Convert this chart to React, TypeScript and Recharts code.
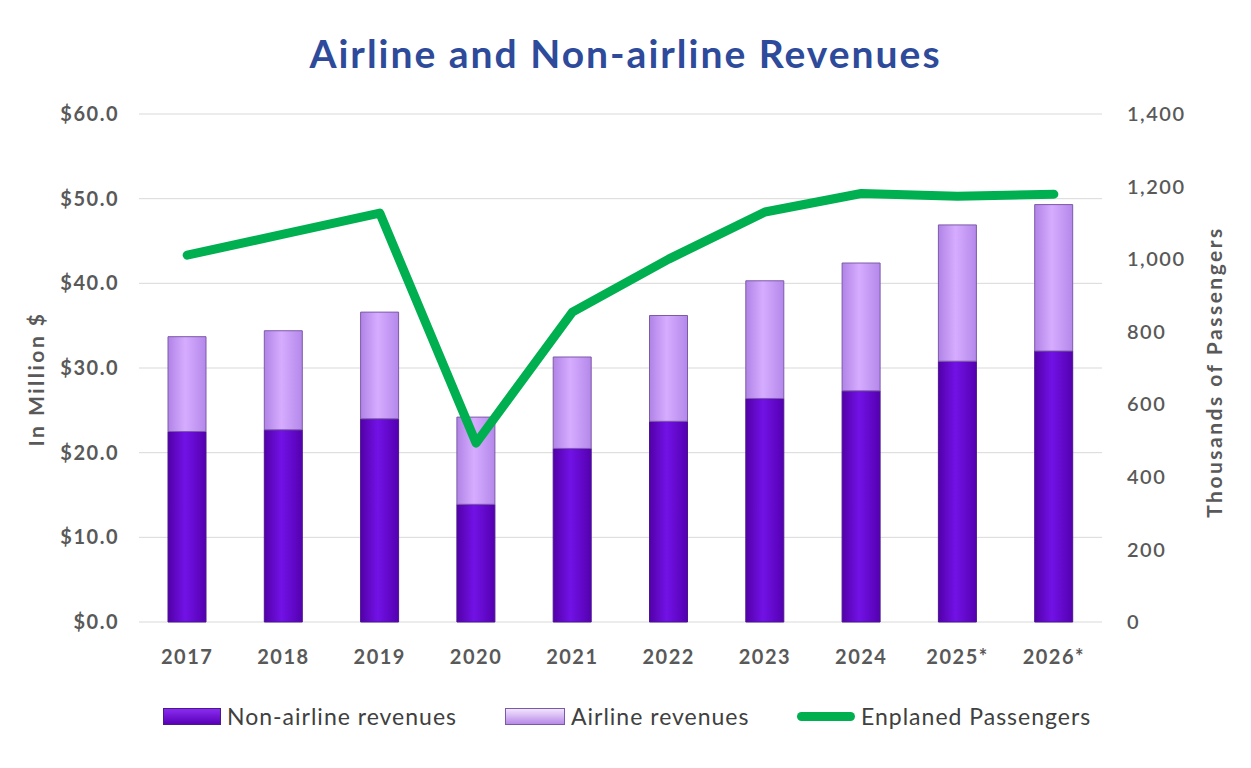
import {
  ComposedChart,
  Bar,
  Line,
  XAxis,
  YAxis,
  CartesianGrid,
} from "recharts";

const years = ["2017", "2018", "2019", "2020", "2021", "2022", "2023", "2024", "2025*", "2026*"];
const nonAirline = [22.5, 22.7, 24.0, 13.9, 20.5, 23.7, 26.4, 27.3, 30.8, 32.0];
const airline = [11.2, 11.7, 12.6, 10.3, 10.8, 12.5, 13.9, 15.1, 16.1, 17.3];
const passengers = [1011, 1069, 1127, 493, 854, 1000, 1130, 1181, 1173, 1179];

const leftTicks = [0, 10, 20, 30, 40, 50, 60];
const rightTicks = [0, 200, 400, 600, 800, 1000, 1200, 1400];

const data = years.map((y, i) => ({
  year: y,
  nonAirline: nonAirline[i],
  airline: airline[i],
  passengers: passengers[i],
}));

const FONT = "Lato, 'Open Sans', sans-serif";
const TICK_COLOR = "#595959";

const tickStyle = {
  fontSize: 20,
  fontWeight: 700,
  fill: TICK_COLOR,
  fontFamily: FONT,
  letterSpacing: 1.5,
};

const legendText = {
  fontFamily: FONT,
  fontSize: 23,
  letterSpacing: 1,
  color: "#404040",
  whiteSpace: "nowrap",
} as const;

function LegendRow() {
  // x positions are relative to the chart box
  const item = (left: number) =>
    ({ position: "absolute", left, top: 694, display: "flex", alignItems: "center", gap: 6 }) as const;
  return (
    <>
      <div style={item(155)}>
        <div
          style={{
            width: 56,
            height: 15,
            background: "linear-gradient(to bottom, #8a2cf0, #5a00b8)",
            border: "1px solid #4a1a8a",
          }}
        />
        <span style={legendText}>Non-airline revenues</span>
      </div>
      <div style={item(497)}>
        <div
          style={{
            width: 58,
            height: 15,
            background: "linear-gradient(to bottom, #f2e4ff, #b88ae8)",
            border: "1px solid #7a5aa8",
          }}
        />
        <span style={legendText}>Airline revenues</span>
      </div>
      <div style={item(789)}>
        <div style={{ width: 58, height: 9, borderRadius: 5, background: "#00B050" }} />
        <span style={legendText}>Enplaned Passengers</span>
      </div>
    </>
  );
}

const axisTitle = {
  position: "absolute",
  transform: "translate(-50%, -50%) rotate(-90deg)",
  whiteSpace: "nowrap",
  fontFamily: FONT,
  fontWeight: 700,
  fontSize: 21,
  letterSpacing: 2.5,
  color: TICK_COLOR,
} as const;

export default function App() {
  return (
    <div style={{ position: "relative", width: 1235, height: 752, background: "#fff" }}>
      <div
        style={{
          position: "absolute",
          left: 0,
          width: 1235,
          top: 22,
          textAlign: "center",
          fontFamily: FONT,
          fontWeight: 700,
          fontSize: 39,
          letterSpacing: 2,
          color: "#2E4A9A",
        }}
      >
        Airline and Non-airline Revenues
      </div>

      <div style={{ ...axisTitle, left: 27, top: 371 }}>In Million $</div>
      <div style={{ ...axisTitle, left: 1205, top: 364 }}>Thousands of Passengers</div>

      <ComposedChart
        width={1235}
        height={752}
        data={data}
        margin={{ top: 106, right: 0, bottom: 108, left: 0 }}
      >
        <defs>
          <linearGradient id="gradNon" x1="0" y1="0" x2="1" y2="0">
            <stop offset="0%" stopColor="#5200a8" />
            <stop offset="45%" stopColor="#7212e6" />
            <stop offset="100%" stopColor="#5400b0" />
          </linearGradient>
          <linearGradient id="gradAir" x1="0" y1="0" x2="1" y2="0">
            <stop offset="0%" stopColor="#b083e6" />
            <stop offset="45%" stopColor="#d6acff" />
            <stop offset="100%" stopColor="#b488ea" />
          </linearGradient>
        </defs>
        <CartesianGrid horizontal vertical={false} stroke="#d9d9d9" yAxisId="left" />
        <XAxis
          dataKey="year"
          height={30}
          tick={tickStyle}
          tickLine={false}
          axisLine={false}
          tickSize={6}
          tickMargin={22}
          interval={0}
        />
        <YAxis
          yAxisId="left"
          orientation="left"
          width={131}
          domain={[0, 60]}
          ticks={leftTicks}
          tickFormatter={(v: number) => `$${v.toFixed(1)}`}
          tick={tickStyle}
          tickLine={false}
          axisLine={false}
          tickSize={6}
          tickMargin={14}
        />
        <YAxis
          yAxisId="right"
          orientation="right"
          width={141}
          domain={[0, 1400]}
          ticks={rightTicks}
          tickFormatter={(v: number) => v.toLocaleString("en-US")}
          tick={{ ...tickStyle, fontWeight: 600 }}
          tickLine={false}
          axisLine={false}
          tickSize={6}
          tickMargin={19}
        />
        <Bar
          yAxisId="left"
          dataKey="nonAirline"
          stackId="rev"
          barSize={38}
          fill="url(#gradNon)"
          stroke="#4a1490"
          strokeWidth={1}
          isAnimationActive={false}
        />
        <Bar
          yAxisId="left"
          dataKey="airline"
          stackId="rev"
          barSize={38}
          fill="url(#gradAir)"
          stroke="#7d5aa8"
          strokeWidth={1}
          isAnimationActive={false}
        />
        <Line
          yAxisId="right"
          dataKey="passengers"
          type="linear"
          stroke="#00B050"
          strokeWidth={9}
          strokeLinecap="round"
          strokeLinejoin="round"
          dot={false}
          activeDot={false}
          isAnimationActive={false}
        />
      </ComposedChart>

      <LegendRow />
    </div>
  );
}
